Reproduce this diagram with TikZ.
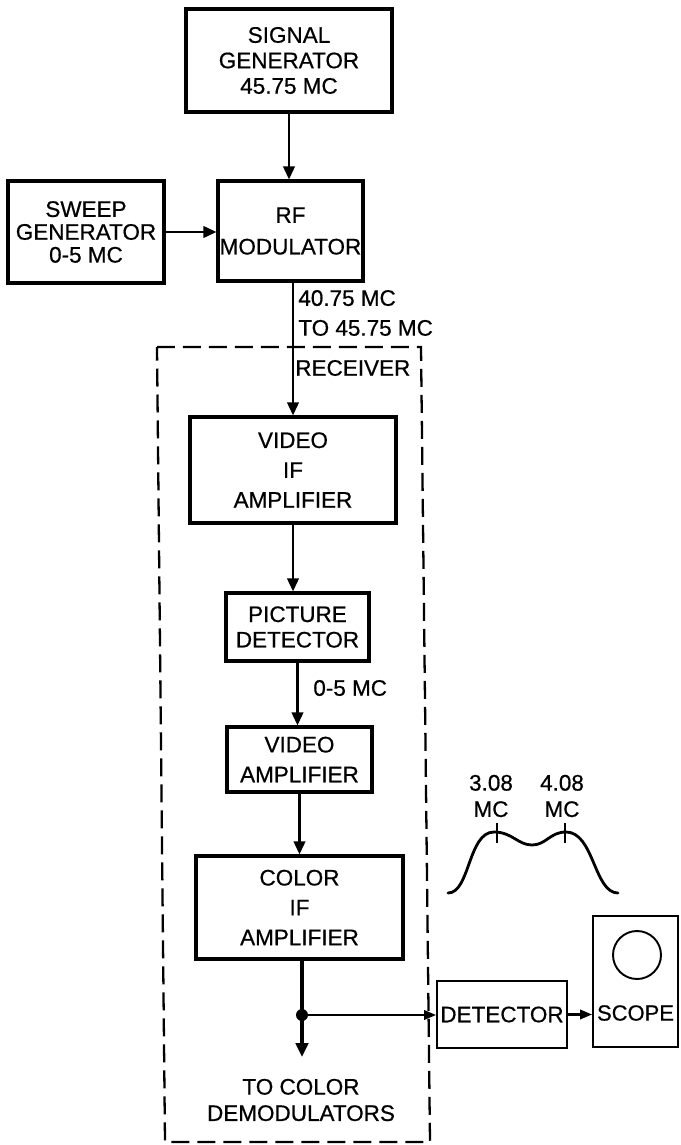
\documentclass[tikz,border=0pt]{standalone}
\usepackage{fontspec}
\setmainfont{Liberation Sans}[FakeBold=0.6]
\usetikzlibrary{arrows.meta}
\begin{document}
\begin{tikzpicture}[x=0.02cm,y=-0.02cm,
	blk/.style={draw,line width=1.8pt,align=center,inner sep=0pt,font=\fontsize{12.8}{14.5}\selectfont},
	blkw/.style={blk,font=\fontsize{12.8}{17}\selectfont},
	thin blk/.style={draw,line width=1.1pt,inner sep=0pt,font=\fontsize{12.8}{14.5}\selectfont},
	lbl/.style={inner sep=0pt,align=left,font=\fontsize{12.8}{17}\selectfont},
	arr/.style={line width=1.3pt,-{Triangle[length=2.6mm,width=2.3mm]}},
	sarr/.style={line width=1.2pt,-{Triangle[length=2.4mm,width=1.9mm]}}]
	\useasboundingbox (0,0) rectangle (680,1145);
	\draw[line width=1.3pt,dash pattern=on 3.6mm off 1.6mm] (157,347) -- (421,347) -- (430,1142) -- (165,1142) -- cycle;
	\node[blk,minimum width=41.2mm,minimum height=20.6mm] (sig) at (289,60.5) {SIGNAL\\GENERATOR\\45.75 MC};
	\node[blk,minimum width=31.2mm,minimum height=20.4mm,font=\fontsize{12.8}{13}\selectfont] (swp) at (86,232) {SWEEP\\GENERATOR\\0-5 MC};
	\node[blk,minimum width=29mm,minimum height=20mm,font=\fontsize{12.8}{18}\selectfont] (rf) at (290.5,231) {RF\\MODULATOR};
	\node[blkw,minimum width=41.2mm,minimum height=21.2mm] (vif) at (293,470) {VIDEO\\IF\\AMPLIFIER};
	\node[blk,minimum width=28.6mm,minimum height=13.6mm] (pic) at (297.5,627) {PICTURE\\DETECTOR};
	\node[blkw,minimum width=29mm,minimum height=13mm] (vamp) at (299.5,759.5) {VIDEO\\AMPLIFIER};
	\node[blkw,minimum width=41.4mm,minimum height=20.6mm] (cif) at (299.5,907.5) {COLOR\\IF\\AMPLIFIER};
	\node[thin blk,minimum width=26mm,minimum height=13.4mm] (det) at (502,1014.5) {DETECTOR};
	\node[thin blk,minimum width=17mm,minimum height=26.2mm] (scope) at (635.5,981.5) {};
	\node[inner sep=0pt,font=\fontsize{12.5}{14.5}\selectfont] (scopetxt) at (635.5,1013) {SCOPE};
	\node[draw,circle,line width=1.1pt,minimum size=9.6mm] (scr) at (637,955) {};
	\node[lbl,anchor=west] (rfout) at (298,313) {40.75 MC\\TO 45.75 MC};
	\node[lbl,anchor=west] (rcv) at (295,368) {RECEIVER};
	\node[lbl,anchor=west] (vidband) at (313,688) {0-5 MC};
	\node[lbl,align=center,font=\fontsize{12.8}{15}\selectfont] (fa) at (491,796) {3.08\\MC};
	\node[lbl,align=center,font=\fontsize{12.8}{15}\selectfont] (fb) at (562,796) {4.08\\MC};
	\node[lbl,align=center,font=\fontsize{12.8}{15}\selectfont] (tcd) at (301,1100) {TO COLOR\\DEMODULATORS};
	\coordinate (jn) at (302,1015);
	\coordinate (out) at (302,1057);
	\draw[arr] (sig.south) -- (sig.south |- rf.north);
	\draw[arr] (swp.east) -- (swp.east -| rf.west);
	\draw[arr] (vif.north |- rf.south) -- (vif.north);
	\draw[arr] (vif.south) -- (vif.south |- pic.north);
	\draw[arr] (pic.south) -- (pic.south |- vamp.north);
	\draw[arr] (vamp.south) -- (vamp.south |- cif.north);
	\draw[line width=1.8pt] (cif.south -| jn) -- (jn);
	\draw[line width=1.8pt,-{Triangle[length=2.8mm,width=2.5mm]}] (jn) -- (out);
	\fill (jn) circle (1.2mm);
	\draw[sarr] (jn) -- (jn -| det.west);
	\draw[sarr] (det.east) -- (det.east -| scope.west);
	\draw[line width=1.6pt,line cap=round] (448,893) .. controls (470,893) and (468,832) .. (494,832) .. controls (512,832) and (518,845) .. (532,845) .. controls (546,845) and (550,832) .. (566,832) .. controls (594,832) and (594,893) .. (618,893);
	\draw[line width=0.9pt] (497,823) -- (497,843);
	\draw[line width=0.9pt] (565,823) -- (565,843);
\end{tikzpicture}
\end{document}
